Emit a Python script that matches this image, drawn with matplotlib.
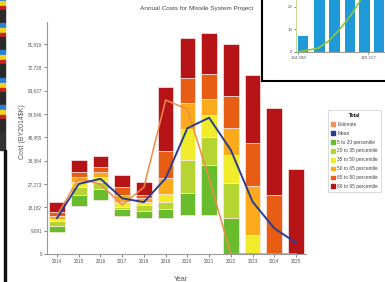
import matplotlib
matplotlib.use('Agg')
import matplotlib.pyplot as plt
from matplotlib.patches import Patch, Rectangle
from matplotlib.ticker import FuncFormatter

plt.rcParams['font.family'] = ['Liberation Sans', 'DejaVu Sans']

years = [2014, 2015, 2016, 2017, 2018, 2019, 2020, 2021, 2022, 2023, 2024, 2025]
p5 = [8700, 18700, 21000, 14800, 14100, 14100, 15200, 15200, 0, 0, 0, 0]
p20 = [10900, 23000, 25200, 17400, 16800, 17400, 23600, 34700, 13900, 0, 0, 0]
p35 = [12700, 26200, 28200, 18400, 19100, 20400, 36700, 45700, 27500, 0, 0, 0]
p50 = [13600, 28200, 30100, 20400, 20400, 23300, 48600, 54200, 38600, 7400, 0, 0]
p65 = [14900, 29900, 31800, 23000, 21700, 29500, 58800, 60500, 49000, 26500, 0, 0]
p80 = [16400, 32100, 34000, 26000, 23000, 40100, 68700, 70100, 61700, 43100, 23000, 0]
p95 = [20100, 36600, 38300, 30800, 28200, 64900, 84300, 86000, 81700, 69700, 56800, 33000]
mean = [14000, 27300, 29300, 21700, 20200, 29500, 49000, 53100, 40500, 20400, 10000, 4400]
estimate = [15000, 29500, 27200, 19100, 26000, 60000, 56400, 29500, 0, 0, 0, 0]
yticks = [0, 9091, 18182, 27273, 36364, 45455, 54546, 63637, 72728, 81819]

band_labels = ['5 to 20 percentile', '20 to 35 percentile', '35 to 50 percentile',
               '50 to 65 percentile', '65 to 80 percentile', '80 to 95 percentile']
band_colors = ['#69bd2d', '#b6d532', '#f0ec2c', '#fbaa1b', '#e65d13', '#b71418']

# inset histogram (partly visible)
hist_x = [108900, 123100, 135900, 149100, 161900, 174400]
hist_n = [7, 30, 30, 30, 30, 30]
cum_x = [104588, 113000, 121800, 130300, 139900, 150200, 157300, 163500]
cum_y = [0, 0.7, 1.6, 4.5, 9.6, 16.3, 22.0, 28.0]

fig = plt.figure(figsize=(3.85, 2.82), dpi=100)
ax = fig.add_axes([47/385, 1-254/282, 259/385, 232/282])

levels = [p5, p20, p35, p50, p65, p80, p95]
for i in range(6):
    lo = levels[i]
    hi = levels[i+1]
    h = [b - a for a, b in zip(lo, hi)]
    ax.bar(years, h, bottom=lo, width=0.72, color=band_colors[i],
           edgecolor='#fbe9e9', linewidth=0.5, zorder=2)

ax.plot(years, estimate, color='#f08a4b', lw=1.1, zorder=3)
ax.plot(years, mean, color='#2b3d8f', lw=1.4, zorder=4)

ax.set_xlim(2013.54, 2025.46)
ax.set_ylim(0, 90400)
ax.set_xticks(years)
ax.set_yticks(yticks)
ax.yaxis.set_major_formatter(FuncFormatter(lambda v, p: format(int(round(v)), ',')))
ax.tick_params(labelsize=3.3, colors='#555555', length=2, width=0.5, pad=1.5)
for s in ['top', 'right']:
    ax.spines[s].set_visible(False)
for s in ['left', 'bottom']:
    ax.spines[s].set_color('#999999')
    ax.spines[s].set_linewidth(0.8)

ax.set_ylabel('Cost (BY2014$K)', fontsize=5, color='#555555')
ax.yaxis.set_label_coords(-0.081, 0.526)
ax.set_xlabel('Year', fontsize=5, color='#555555')
ax.xaxis.set_label_coords(0.517, -0.093)

fig.text(197/385, 1-8.5/282, 'Annual Costs for Missile System Project', fontsize=4.6,
         color='#444444', ha='center', va='center')

handles = [Patch(color='#f4915a', label='Estimate'), Patch(color='#2b3d8f', label='Mean')]
for c, l in zip(band_colors, band_labels):
    handles.append(Patch(color=c, label=l))
leg = fig.legend(handles=handles, loc='upper left', bbox_to_anchor=(328/385, 1-110/282),
                 borderaxespad=0, fontsize=3.5, title='Total', fancybox=False,
                 handlelength=0.8, handleheight=0.8, handletextpad=0.5,
                 labelspacing=0.8, borderpad=0.6, framealpha=1)
leg.get_title().set_fontsize(3.5)
leg.get_title().set_fontweight('bold')
leg.get_frame().set_edgecolor('#cccccc')
leg.get_frame().set_linewidth(0.5)
for t in leg.get_texts():
    t.set_color('#444444')

# overlapping window at top right
box = fig.add_axes([262/385, 1-81/282, 0.4, 0.35])
box.set_xticks([])
box.set_yticks([])
box.set_facecolor('white')
for s in box.spines.values():
    s.set_color('black')
    s.set_linewidth(1.5)

ins = fig.add_axes([295.7/385, 1-51.7/282, (385-295.7)/385, 51.7/282])
ins.set_facecolor('none')
ins.bar(hist_x, hist_n, width=9000, color='#1e9ad8', zorder=2)
ins.plot(cum_x, cum_y, color='#8cc63f', lw=1.2, zorder=3)
ins.set_xlim(102340, 179600)
ins.set_ylim(0, 23)
ins.set_yticks([0, 10, 20])
ins.set_xticks([104588, 165157])
ins.set_xticklabels(['104,588', '165,157'])
ins.tick_params(labelsize=3.2, colors='#555555', length=1.5, width=0.5, pad=1)
for s in ['top', 'right']:
    ins.spines[s].set_visible(False)
ins.spines['left'].set_color('#b9dc8c')
ins.spines['bottom'].set_color('#999999')
ins.spines['left'].set_linewidth(0.7)
ins.spines['bottom'].set_linewidth(0.7)

# left side strip of the screenshot
strip_colors = ['#2a7fd4', '#f2d21c', '#c9231b', '#2b2b2b']
strip_sizes = [5, 5, 4, 13.3]
y0 = -4.3
while y0 < 132:
    y = y0
    for c, sz in zip(strip_colors, strip_sizes):
        top = max(y, 0)
        bot = min(y + sz, 132)
        if bot > top:
            fig.patches.append(Rectangle((0, 1-bot/282), 4.5/385, (bot-top)/282,
                                         transform=fig.transFigure, color=c))
        y += sz
    y0 += 27.3
fig.patches.append(Rectangle((0, 1-150/282), 4.5/385, 18/282,
                             transform=fig.transFigure, color='#333333'))
fig.patches.append(Rectangle((4.2/385, 0), 1.8/385, 1-150/282,
                             transform=fig.transFigure, color='#111111'))

fig.savefig('out.png', dpi=100)
